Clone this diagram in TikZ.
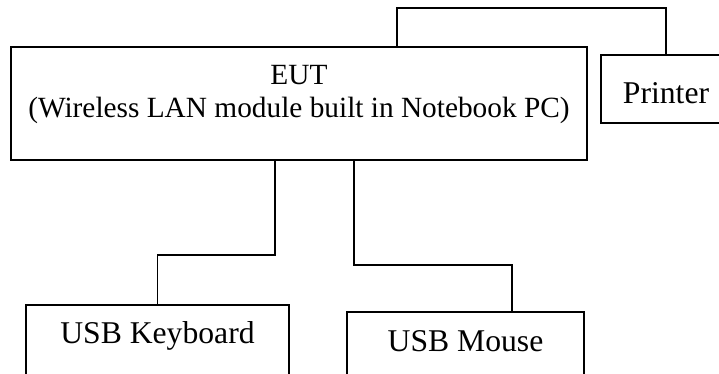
\documentclass[tikz,border=0pt]{standalone}
\usepackage{fontspec}
\setmainfont{Liberation Serif}
\usepackage{tikz}
\tikzset{
  unit/.style={draw, line width=1.4pt, inner sep=0pt, align=center,
    font=\fontsize{23.75}{26}\selectfont},
  cable/.style={line width=1.1pt},
}

\begin{document}
\begin{tikzpicture}[x=0.75pt, y=-0.75pt]

  % Page
  \useasboundingbox (0, 0) rectangle (719, 374);
  \clip (0, 0) rectangle (719, 374);

  % ---------- Units ----------
  \node[unit, minimum width=432pt, minimum height=84.75pt,
    font=\fontsize{22}{24.75}\selectfont] at (299, 103.5) (eut)
    {EUT\\(Wireless LAN module built in Notebook PC)\rule[-18pt]{0pt}{18pt}};
  \node[unit, anchor=north, minimum width=97.5pt, text height=36.75pt, text depth=14.25pt]
    at (666, 54) (printer) {Printer};
  \node[unit, anchor=north, minimum width=197.25pt, text height=29.25pt, text depth=60pt]
    at (157.5, 304) (keyboard) {USB Keyboard};
  \node[unit, anchor=north, minimum width=177.75pt, text height=30pt, text depth=60pt]
    at (465.5, 311) (mouse) {USB Mouse};

  % ---------- Cables ----------
  \draw[cable] ([xshift=73.5pt]eut.north) -- ++(0, -38) -| (printer.north);
  \draw[cable] ([xshift=-18pt]eut.south) -- ++(0, 94) -| (keyboard.north);
  \draw[cable] ([xshift=41.25pt]eut.south) -- ++(0, 104) -| ([xshift=34.875pt]mouse.north);
\end{tikzpicture}
\end{document}
